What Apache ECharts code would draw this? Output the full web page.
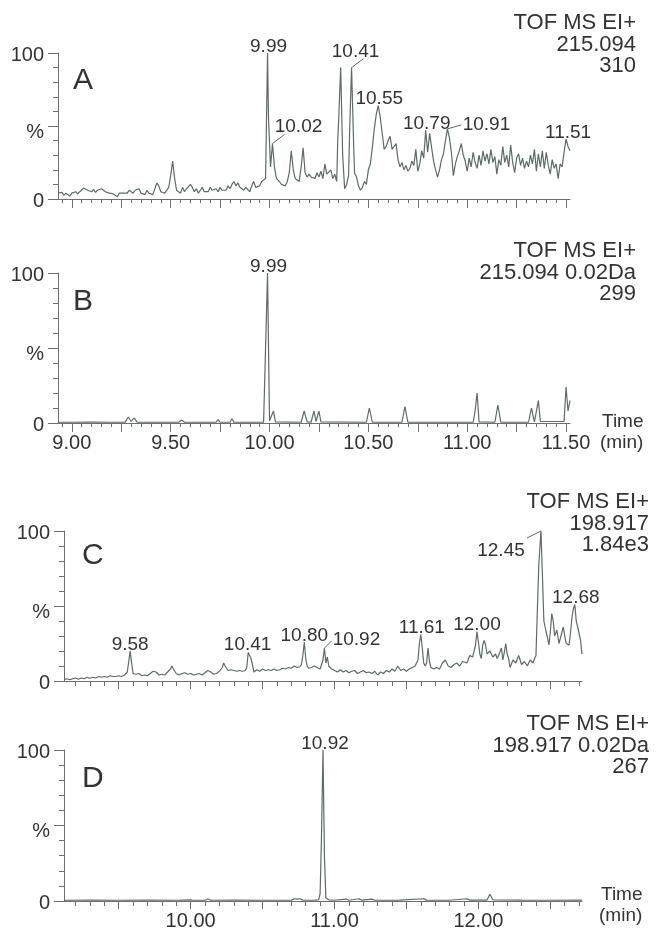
<!DOCTYPE html>
<html>
<head>
<meta charset="utf-8">
<script src="https://cdn.jsdelivr.net/npm/echarts@6/dist/echarts.min.js"></script>
<style>html,body{margin:0;padding:0;background:#fff;}#chart{width:657px;height:931px;}</style>
</head>
<body>
<div id="chart"></div>
<script>
// ---------------- DATA ----------------
// Panel A: TIC-like chromatogram, m/z 215.094 (time [min], relative intensity %)
const traceA = [
[8.93,4],[8.94,3],[8.95,4.5],[8.96,2.5],[8.97,4],[8.98,3],[8.99,2],[9.00,4],[9.01,3],[9.02,5],[9.03,3.5],[9.04,5],[9.05,6],[9.06,7.5],[9.07,8],[9.08,6],[9.09,7],[9.10,5],[9.11,6.5],[9.12,4.5],[9.13,6],[9.14,5],[9.15,7],[9.16,6],[9.17,5],[9.18,6],[9.19,4],[9.20,5],[9.21,3.5],[9.22,4],[9.23,1.5],[9.24,4],[9.25,5],[9.26,4],[9.27,5],[9.28,4],[9.29,6],[9.30,5],[9.31,4],[9.32,6],[9.33,5],[9.34,7],[9.35,4],[9.36,5],[9.37,3],[9.38,6],[9.39,4],[9.40,5],[9.41,3],[9.42,7],[9.43,11],[9.44,9],[9.45,5],[9.46,6],[9.47,4],[9.48,5],[9.49,8],[9.50,16],[9.51,26],[9.52,14],[9.53,6],[9.54,7],[9.55,4],[9.56,8],[9.57,5],[9.58,7],[9.59,6],[9.60,10],[9.61,8],[9.62,5],[9.63,7],[9.64,4],[9.65,6],[9.66,8],[9.67,5],[9.68,6],[9.69,5],[9.70,8],[9.71,6],[9.72,5],[9.73,7],[9.74,5],[9.75,8],[9.76,6],[9.77,7],[9.78,6],[9.79,9],[9.80,7],[9.81,10],[9.82,12],[9.83,9],[9.84,11],[9.85,8],[9.86,9],[9.87,6],[9.88,8],[9.89,7],[9.90,5],[9.91,9],[9.92,12],[9.93,8],[9.94,7],[9.95,9],[9.96,12],[9.97,11],[9.98,14],[9.99,100],[9.995,55],[10.005,22],[10.015,38],[10.025,22],[10.035,14],[10.05,12],[10.06,10],[10.07,11],[10.08,9],[10.09,12],[10.10,18],[10.11,33],[10.12,20],[10.13,14],[10.14,13],[10.15,12],[10.16,22],[10.17,35],[10.18,18],[10.19,15],
[10.20,17],[10.21,15],[10.22,16],[10.23,14],[10.24,18],[10.25,15],[10.26,19],[10.27,14],[10.28,24],[10.29,17],[10.30,16],[10.31,20],[10.32,14],[10.33,17],[10.34,12],[10.345,40],[10.35,55],[10.36,90],[10.37,30],[10.38,7],[10.39,10],[10.40,16],[10.405,45],[10.415,90],[10.425,40],[10.43,18],[10.44,15],[10.45,9],[10.46,6],[10.47,8],[10.48,12],[10.49,10],[10.50,20],[10.51,24],[10.52,35],[10.53,48],[10.54,58],[10.55,64],[10.56,56],[10.57,45],[10.58,34],[10.59,36],[10.60,40],[10.61,43],[10.62,34],[10.63,33],[10.64,38],[10.65,27],[10.66,22],[10.67,25],[10.68,20],[10.69,23],[10.70,19],[10.71,21],[10.72,26],[10.73,23],[10.74,34],[10.75,19],[10.76,24],[10.77,33],[10.78,28],[10.79,47],[10.80,32],[10.81,45],[10.82,35],[10.83,26],[10.84,20],[10.85,15],[10.86,20],[10.87,27],[10.88,31],[10.89,40],[10.90,48],[10.91,42],[10.92,32],[10.93,16],[10.94,24],[10.95,29],[10.96,33],[10.97,38],[10.98,30],[10.99,26],[11.00,19],[11.01,28],[11.02,22],[11.03,32],[11.04,25],[11.05,21],[11.06,30],[11.07,23],[11.08,33],[11.09,26],[11.10,31],[11.11,24],[11.12,34],[11.13,25],[11.14,29],[11.15,17],[11.16,27],[11.17,23],[11.18,36],[11.19,25],[11.20,30],[11.21,22],[11.22,37],[11.23,25],[11.24,18],[11.25,28],[11.26,31],[11.27,23],[11.28,28],[11.29,21],[11.30,26],[11.31,22],[11.32,30],[11.33,24],[11.34,34],[11.35,19],[11.36,31],[11.37,22],[11.38,33],[11.39,21],[11.40,32],[11.41,23],[11.42,17],[11.43,27],[11.44,21],[11.45,24],[11.46,14],[11.47,24],[11.48,22],[11.49,32],[11.50,41],[11.51,36],[11.52,33]
];
// Panel B: extracted ion 215.094 0.02Da
const traceB = [
[8.93,0.5],[9.00,0.5],[9.10,0.6],[9.20,0.5],[9.27,0.6],[9.285,4],[9.30,1],[9.315,3.5],[9.33,0.6],[9.38,0.5],[9.39,1.8],[9.40,0.5],[9.54,0.5],[9.555,2],[9.57,0.5],[9.65,0.5],[9.66,1.8],[9.67,0.5],[9.73,0.5],[9.74,2.2],[9.75,0.5],[9.80,0.5],[9.81,2.8],[9.82,0.5],[9.97,0.5],[9.98,1],[9.99,100],[10.00,1.5],[10.01,0.8],[10.02,8],[10.03,0.8],[10.16,0.5],[10.175,8],[10.19,0.8],[10.21,0.5],[10.225,8],[10.235,1],[10.25,8],[10.26,0.8],[10.49,0.5],[10.505,10],[10.52,0.5],[10.67,0.5],[10.685,11],[10.70,0.5],[11.03,0.5],[11.04,8],[11.05,20],[11.06,0.8],[11.14,0.5],[11.155,12],[11.17,0.6],[11.31,0.5],[11.325,10],[11.34,0.8],[11.36,15],[11.37,1],[11.49,1],[11.50,24],[11.51,8],[11.52,15]
];
// Panel C: chromatogram m/z 198.917
const traceC = [
[9.12,1],[9.14,1.5],[9.16,0.8],[9.18,1.5],[9.20,2],[9.22,1.2],[9.24,2],[9.26,1.5],[9.28,2.5],[9.30,1.8],[9.32,2.5],[9.34,2],[9.36,3],[9.38,2.5],[9.40,3],[9.42,2.5],[9.44,3.5],[9.46,3],[9.48,3],[9.50,3.5],[9.52,3],[9.54,4],[9.56,6],[9.57,13],[9.58,20],[9.59,12],[9.60,5],[9.62,4.5],[9.64,5],[9.66,3.5],[9.68,4],[9.70,3.5],[9.72,5],[9.74,6.5],[9.76,6],[9.78,4],[9.80,4.5],[9.82,4],[9.84,6],[9.86,8],[9.87,10],[9.88,8],[9.90,5],[9.92,4],[9.94,5],[9.96,5.5],[9.98,4.5],[10.00,5],[10.02,4],[10.04,4.5],[10.06,5],[10.08,4],[10.10,5.5],[10.12,7],[10.14,6],[10.16,4.5],[10.18,5],[10.20,6.5],[10.22,9],[10.23,12],[10.24,10],[10.26,7],[10.28,7.5],[10.30,7],[10.32,6.5],[10.34,7],[10.36,6.5],[10.38,7],[10.39,9],[10.40,19],[10.41,20],[10.42,15],[10.43,16],[10.44,6],[10.46,7.5],[10.48,6.5],[10.50,8],[10.52,7],[10.54,7.5],[10.56,7],[10.58,8],[10.60,7],[10.62,7.5],[10.64,8.5],[10.66,8],[10.68,9],[10.70,8.5],[10.72,10],[10.74,9],[10.76,9.5],[10.77,11],[10.78,17],[10.79,26],[10.80,15],[10.81,10],[10.82,8.5],[10.84,9],[10.86,10],[10.88,9],[10.90,8],[10.91,11],[10.92,14],[10.93,22],[10.94,12],[10.95,16],[10.96,10],[10.98,8],[11.00,7],[11.02,6],[11.04,7.5],[11.06,6],[11.08,7],[11.10,5.5],[11.12,6.5],[11.14,7],[11.16,5],[11.18,6],[11.20,7],[11.22,5.5],[11.24,6],[11.26,5],[11.28,6.5],[11.30,4],[11.32,6],[11.34,5],[11.36,7],[11.38,6],[11.40,8],[11.42,6.5],[11.44,10],[11.46,7],[11.48,8],[11.50,6.5],[11.52,8],[11.54,9],[11.56,10],[11.58,14],[11.59,25],[11.60,31],[11.61,22],[11.62,12],[11.63,10],[11.64,12],[11.65,22],[11.66,13],[11.67,9],[11.69,8],[11.71,9],[11.73,8],[11.75,12],[11.77,14],[11.79,10],[11.81,9],[11.83,11],[11.85,12],[11.87,10],[11.89,13],[11.90,14],[11.92,12],[11.94,17],[11.96,16],[11.98,24],[11.99,33],[12.00,26],[12.01,18],[12.02,15],[12.03,24],[12.04,27],[12.05,24],[12.06,18],[12.08,20],[12.10,16],[12.12,18],[12.13,15],[12.14,17],[12.16,22],[12.17,14],[12.18,19],[12.19,25],[12.20,18],[12.21,15],[12.22,9],[12.24,14],[12.26,12],[12.28,17],[12.30,11],[12.32,13],[12.34,10],[12.36,14],[12.38,12],[12.39,15],[12.40,17],[12.41,48],[12.42,78],[12.435,100],[12.445,70],[12.455,40],[12.47,33],[12.48,29],[12.49,24],[12.50,33],[12.51,45],[12.52,40],[12.53,30],[12.545,34],[12.56,25],[12.57,24],[12.59,36],[12.60,30],[12.61,25],[12.63,24],[12.64,32],[12.65,42],[12.66,48],[12.67,51],[12.68,40],[12.69,36],[12.70,35],[12.71,27],[12.72,18]
];
// Panel D: extracted ion 198.917 0.02Da
const traceD = [
[9.12,0.5],[9.30,0.6],[9.50,0.5],[9.70,0.6],[9.90,0.5],[9.99,0.8],[10.00,1.5],[10.01,0.6],[10.10,0.5],[10.12,1.3],[10.14,0.5],[10.30,0.6],[10.50,0.5],[10.70,0.6],[10.72,1.5],[10.74,1.2],[10.76,1.5],[10.78,0.6],[10.85,0.5],[10.89,0.8],[10.90,5],[10.91,45],[10.92,100],[10.93,30],[10.94,2],[10.96,0.8],[11.00,0.5],[11.08,1.3],[11.10,0.5],[11.17,1.5],[11.19,0.6],[11.26,1.2],[11.28,0.5],[11.45,0.6],[11.62,1.5],[11.64,0.6],[11.80,0.5],[11.92,1.5],[11.94,0.6],[12.06,0.6],[12.08,4.5],[12.10,0.8],[12.30,0.6],[12.50,0.5],[12.72,0.6]
];

// Peak labels (retention times printed on the chart)
const peaksA = ['9.99','10.02','10.41','10.55','10.79','10.91','11.51'];
const peaksB = ['9.99'];
const peaksC = ['9.58','10.41','10.80','10.92','11.61','12.00','12.45','12.68'];
const peaksD = ['10.92'];

// Instrument annotations
const annA = ['TOF MS EI+','215.094','310'];
const annB = ['TOF MS EI+','215.094 0.02Da','299'];
const annC = ['TOF MS EI+','198.917','1.84e3'];
const annD = ['TOF MS EI+','198.917 0.02Da','267'];
const panelNames = ['A','B','C','D'];

// Axis ranges / tick labels
const rangeAB = [8.93, 11.52];
const rangeCD = [9.12, 12.72];
const labelTicksAB = [9.00, 9.50, 10.00, 10.50, 11.00, 11.50];
const labelTicksD = [10.00, 11.00, 12.00];
const yLabels = {0:'0', 50:'%', 100:'100'};

// ---------------- STYLE ----------------
const FONT = '"Liberation Sans", Arial, Helvetica, sans-serif';
const TEXT = '#333333';
const AXIS = '#6e6e6e';
const LINE = '#5d6c64';

function stepTicks(a, b, step) {
  const out = [];
  for (let i = 0; a + i * step <= b + 1e-9; i++) out.push(+(a + i * step).toFixed(3));
  return out;
}
const minorAB = stepTicks(8.95, 11.50, 0.05);
const majorAB = stepTicks(9.00, 11.50, 0.25);
const minorCD = stepTicks(9.20, 12.70, 0.1);
const majorCD = stepTicks(9.50, 12.50, 0.5);

// label offsets [dx, dy, leaderDx, leaderDy] in px relative to peak apex
const offA = [[1,3],[26,-7,12,-9],[4,-6,12,-9],[1,3],[1,3],[39,5,14,-4],[2,3]];
const offB = [[1,3]];
const offC = [[0,3],[-2,3],[0,3],[32,1,7,-7],[1,3],[0,3],[-40,29,-14,7],[1,3]];
const offD = [[2,3]];

const grids = [
  {left:58, top:53, width:512, height:146},
  {left:58, top:273, width:512, height:150},
  {left:64, top:531, width:518, height:150},
  {left:64, top:750, width:518, height:151}
];

function findApex(trace, t) {
  let best = null;
  for (const p of trace) {
    if (Math.abs(p[0] - t) <= 0.02 + 1e-9 && (!best || p[1] > best[1])) best = p;
  }
  return best || [t, 0];
}

function xAxesFor(gi, range, minor, major, labels, majorLen, minorLen) {
  const base = {
    type:'value', gridIndex:gi, min:range[0], max:range[1], position:'bottom',
    splitLine:{show:false}
  };
  return [
    Object.assign({}, base, {
      axisLine:{show:true, onZero:false, lineStyle:{color:AXIS, width:1}},
      axisTick:{show:true, length:minorLen, customValues:minor, lineStyle:{color:AXIS, width:1}},
      axisLabel:{show: !!labels, customValues: labels || [], margin:10, fontSize:20, color:TEXT, fontFamily:FONT,
        formatter: v => v.toFixed(2)}
    }),
    Object.assign({}, base, {
      axisLine:{show:false, onZero:false},
      axisTick:{show:true, length:majorLen, customValues:major, lineStyle:{color:AXIS, width:1}},
      axisLabel:{show:false}
    })
  ];
}

function yAxisFor(gi) {
  return {
    type:'value', gridIndex:gi, min:0, max:100, interval:50,
    axisLine:{show:true, lineStyle:{color:AXIS, width:1}},
    axisTick:{show:true, length:10, lineStyle:{color:AXIS, width:1}},
    minorTick:{show:true, splitNumber:5, length:5, lineStyle:{color:AXIS, width:1}},
    splitLine:{show:false}, minorSplitLine:{show:false},
    axisLabel:{
      margin:14, fontSize:20, color:TEXT, fontFamily:FONT,
      formatter: v => (v === 50 ? '{p|' : '{n|') + yLabels[v] + '}',
      rich:{
        n:{padding:[5,0,0,0], fontSize:20, color:TEXT, fontFamily:FONT},
        p:{padding:[12,0,0,0], fontSize:20, color:TEXT, fontFamily:FONT}
      }
    }
  };
}

function lineSeries(pi, trace) {
  return {
    type:'line', xAxisIndex:2*pi, yAxisIndex:pi, data:trace,
    symbol:'none', showSymbol:false, smooth:false, clip:false,
    lineStyle:{color:LINE, width:1.2}, silent:true, z:3
  };
}

function labelSeries(pi, trace, labels, offsets) {
  const data = labels.map((lab, k) => {
    const apex = findApex(trace, parseFloat(lab));
    return [apex[0], apex[1], k];
  });
  return {
    type:'custom', xAxisIndex:2*pi, yAxisIndex:pi, data, clip:false, silent:true, z:5,
    renderItem: (params, api) => {
      const p = api.coord([api.value(0), api.value(1)]);
      const k = api.value(2);
      const o = offsets[k];
      const children = [{
        type:'text', x:p[0] + o[0], y:p[1] + o[1],
        style:{text:labels[k], align:'center', verticalAlign:'bottom', fill:TEXT,
               font:'19px ' + FONT}
      }];
      if (o.length > 2) {
        children.push({type:'line', shape:{x1:p[0], y1:p[1], x2:p[0] + o[2], y2:p[1] + o[3]},
          style:{stroke:LINE, lineWidth:1}});
      }
      return {type:'group', children};
    }
  };
}

const graphics = [];
const letterPos = [[73,81],[73,302],[82,556],[82,779]];
panelNames.forEach((n, i) => {
  graphics.push({type:'text', x:letterPos[i][0], y:letterPos[i][1],
    style:{text:n, font:'30px ' + FONT, fill:TEXT, align:'left', verticalAlign:'middle'}});
});
const annBlocks = [[annA, 636, 23], [annB, 636, 251], [annC, 649, 502], [annD, 649, 724]];
annBlocks.forEach(([lines, x, y0]) => {
  lines.forEach((s, j) => {
    graphics.push({type:'text', x:x, y:y0 + j * 21.5,
      style:{text:s, font:'22px ' + FONT, fill:TEXT, align:'right', verticalAlign:'middle'}});
  });
});
[[602, 422], [601, 895]].forEach(([x, y]) => {
  graphics.push({type:'text', x:x, y:y, style:{text:'Time', font:'19px ' + FONT, fill:TEXT, align:'left', verticalAlign:'middle'}});
  graphics.push({type:'text', x:x - 2, y:y + 21, style:{text:'(min)', font:'19px ' + FONT, fill:TEXT, align:'left', verticalAlign:'middle'}});
});

const option = {
  backgroundColor:'#ffffff',
  animation:false,
  grid: grids,
  xAxis: [].concat(
    xAxesFor(0, rangeAB, minorAB, majorAB, null, 9, 4),
    xAxesFor(1, rangeAB, minorAB, majorAB, labelTicksAB, 9, 4),
    xAxesFor(2, rangeCD, minorCD, majorCD, null, 8, 5),
    xAxesFor(3, rangeCD, minorCD, majorCD, labelTicksD, 8, 5)
  ),
  yAxis: [yAxisFor(0), yAxisFor(1), yAxisFor(2), yAxisFor(3)],
  series: [
    lineSeries(0, traceA), lineSeries(1, traceB), lineSeries(2, traceC), lineSeries(3, traceD),
    labelSeries(0, traceA, peaksA, offA), labelSeries(1, traceB, peaksB, offB),
    labelSeries(2, traceC, peaksC, offC), labelSeries(3, traceD, peaksD, offD)
  ],
  graphic: graphics
};

const chart = echarts.init(document.getElementById('chart'), null, {renderer:'canvas'});
chart.setOption(option);
</script>
</body>
</html>
